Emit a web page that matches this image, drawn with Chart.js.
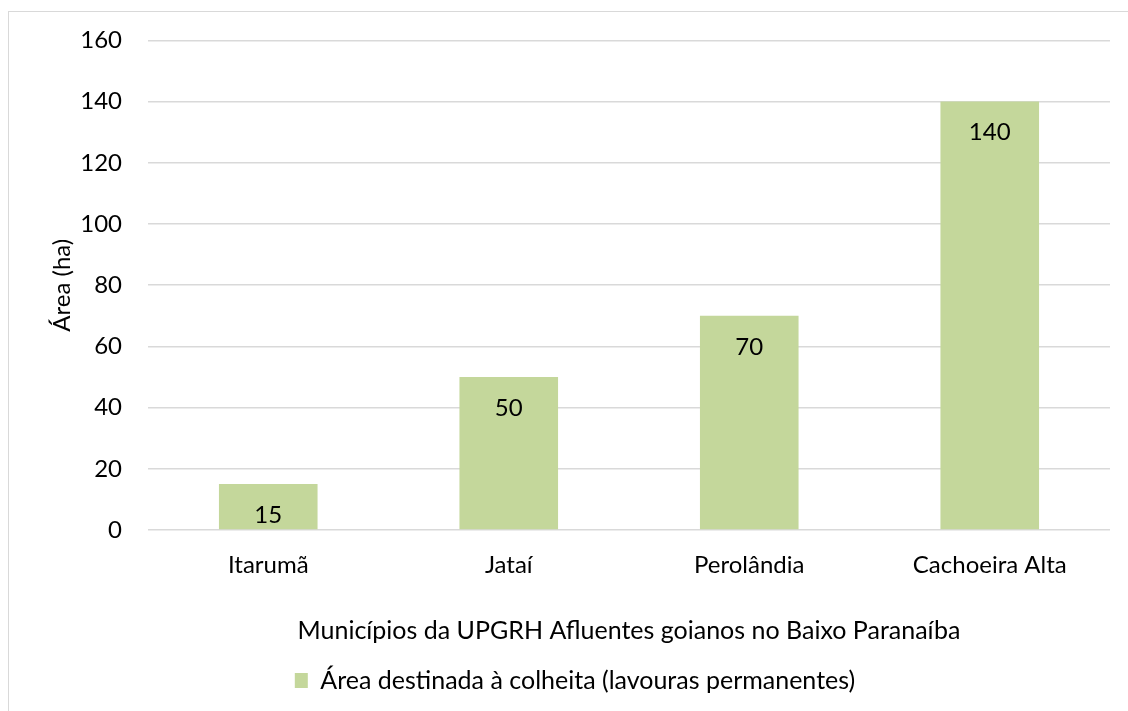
<!DOCTYPE html>
<html>
<head>
<meta charset="utf-8">
<script src="https://cdn.jsdelivr.net/npm/chart.js@4/dist/chart.umd.min.js"></script>
<style>
  body { margin: 0; background: #fff; overflow: hidden; }
  #frame { position: absolute; left: 8px; top: 11px; width: 1300px; height: 900px; border: 1px solid #d9d9d9; }
  #wrap { position: absolute; left: 0; top: 0; width: 1128px; height: 711px; }
</style>
</head>
<body>
<div id="frame"></div>
<div id="wrap"><canvas id="myChart"></canvas></div>
<script>
const municipios = ['Itarumã', 'Jataí', 'Perolândia', 'Cachoeira Alta'];
const area = [15, 50, 70, 140];
const yMin = 0;
const yMax = 160;
const yStep = 20;

const FONT = 'Lato';
const SIZE = 24;
const TITLE_SIZE = 25;
const TEXT = '#000000';

// value labels just under the top of each bar
const barLabels = {
    id: 'barLabels',
    afterDatasetsDraw(chart) {
        const { ctx } = chart;
        const meta = chart.getDatasetMeta(0);
        ctx.save();
        ctx.font = `${SIZE}px ${FONT}`;
        ctx.fillStyle = TEXT;
        ctx.textAlign = 'center';
        ctx.textBaseline = 'middle';
        meta.data.forEach((bar, i) => {
            ctx.fillText(String(area[i]), bar.x, bar.y + 31);
        });
        ctx.restore();
    }
};

const ctx = document.getElementById('myChart');

new Chart(ctx, {
    type: 'bar',
    data: {
        labels: municipios,
        datasets: [{
            label: 'Área destinada à colheita (lavouras permanentes)',
            data: area,
            backgroundColor: '#C4D79B',
            borderWidth: 0,
            barPercentage: 0.41,
            categoryPercentage: 1
        }]
    },
    options: {
        responsive: true,
        maintainAspectRatio: false,
        animation: false,
        layout: {
            padding: { left: 40, right: 18, top: 32, bottom: 8 }
        },
        scales: {
            x: {
                grid: { display: false },
                border: { display: false },
                ticks: {
                    color: TEXT,
                    font: { size: SIZE, family: FONT },
                    padding: 13
                },
                title: {
                    display: true,
                    text: 'Municípios da UPGRH Afluentes goianos no Baixo Paranaíba',
                    color: TEXT,
                    font: { size: TITLE_SIZE, family: FONT },
                    padding: { top: 0, bottom: 10 }
                },
                afterFit: (scale) => { scale.height = 126; }
            },
            y: {
                min: yMin,
                max: yMax,
                ticks: {
                    stepSize: yStep,
                    color: TEXT,
                    font: { size: SIZE, family: FONT },
                    padding: 26
                },
                grid: {
                    color: '#d9d9d9',
                    lineWidth: 1.5,
                    drawTicks: false
                },
                border: { display: false },
                title: {
                    display: true,
                    text: 'Área (ha)',
                    color: TEXT,
                    font: { size: SIZE, family: FONT },
                    padding: { top: 8, bottom: 0 }
                },
                afterFit: (scale) => { scale.width = 108; }
            }
        },
        plugins: {
            legend: {
                position: 'bottom',
                labels: {
                    color: TEXT,
                    font: { size: TITLE_SIZE, family: FONT },
                    boxWidth: 13,
                    boxHeight: 15,
                    padding: 12
                }
            },
            tooltip: { enabled: false }
        }
    },
    plugins: [barLabels]
});
</script>
</body>
</html>
